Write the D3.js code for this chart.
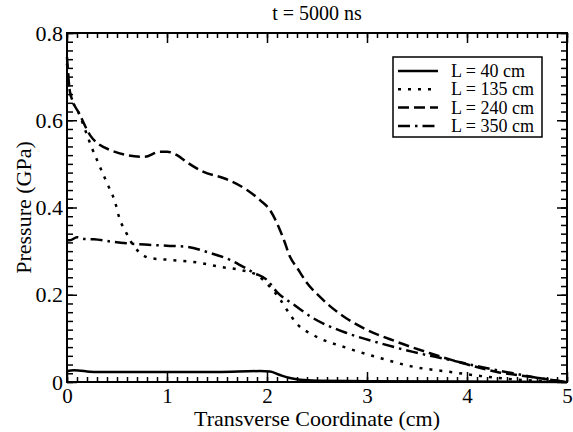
<!DOCTYPE html>
<html>
<head>
<meta charset="utf-8">
<script src="https://cdn.jsdelivr.net/npm/d3@7"></script>
<style>
  body { margin: 0; background: #fff; }
</style>
</head>
<body>
<svg id="chart" width="573" height="432"></svg>
<script>
// Pressure profiles
const x40 = [0, 0.07, 0.27, 1.0, 1.5, 1.93, 2.03, 2.13, 2.23, 2.33, 2.5, 3.0, 4.0, 5.0];
const p40 = [0.025, 0.027, 0.023, 0.023, 0.023, 0.025, 0.024, 0.016, 0.009, 0.005, 0.003, 0.002, 0.001, 0.0];

const x135 = [0, 0.03, 0.13, 0.21, 0.25, 0.33, 0.4, 0.48, 0.53, 0.58, 0.63, 0.73, 0.83, 1.03, 1.33, 1.53, 1.73, 1.9, 2.03, 2.13, 2.2, 2.3, 2.46, 2.8, 3.13, 3.46, 3.8, 4.13, 4.46, 4.8, 5.0];
const p135 = [0.73, 0.665, 0.61, 0.56, 0.536, 0.493, 0.456, 0.413, 0.371, 0.348, 0.325, 0.296, 0.284, 0.28, 0.273, 0.264, 0.257, 0.245, 0.218, 0.19, 0.165, 0.133, 0.108, 0.078, 0.055, 0.035, 0.024, 0.014, 0.006, 0.002, 0.0];

const x240 = [0, 0.03, 0.13, 0.23, 0.33, 0.43, 0.6, 0.77, 0.93, 1.0, 1.1, 1.21, 1.36, 1.57, 1.8, 1.93, 2.03, 2.1, 2.17, 2.23, 2.3, 2.4, 2.53, 2.63, 2.8, 2.96, 3.3, 3.63, 3.96, 4.3, 4.63, 4.9, 5.0];
const p240 = [0.745, 0.665, 0.612, 0.566, 0.543, 0.532, 0.52, 0.516, 0.528, 0.528, 0.52, 0.502, 0.482, 0.467, 0.44, 0.417, 0.394, 0.364, 0.325, 0.287, 0.262, 0.227, 0.195, 0.174, 0.145, 0.124, 0.092, 0.066, 0.043, 0.023, 0.012, 0.003, 0.0];

const x350 = [0, 0.03, 0.1, 0.17, 0.27, 0.47, 0.7, 1.03, 1.2, 1.4, 1.63, 1.87, 2.0, 2.1, 2.27, 2.45, 2.8, 3.13, 3.46, 3.8, 4.13, 4.46, 4.8, 5.0];
const p350 = [0.325, 0.325, 0.332, 0.328, 0.327, 0.321, 0.316, 0.312, 0.31, 0.298, 0.28, 0.25, 0.234, 0.206, 0.177, 0.148, 0.112, 0.089, 0.069, 0.052, 0.035, 0.02, 0.006, 0.0];

const seriesLabels = ["L = 40 cm", "L = 135 cm", "L = 240 cm", "L = 350 cm"];
const xTicks = [0, 1, 2, 3, 4, 5];
const yTicks = [0, 0.2, 0.4, 0.6, 0.8];

const series = [
  { label: seriesLabels[0], x: x40, p: p40, dash: null },
  { label: seriesLabels[1], x: x135, p: p135, dash: "3,7" },
  { label: seriesLabels[2], x: x240, p: p240, dash: "11,5" },
  { label: seriesLabels[3], x: x350, p: p350, dash: "12,5,2.5,5" }
];

const serif = "'Liberation Serif', 'Times New Roman', serif";
const svg = d3.select("#chart");
const plotLeft = 67, plotRight = 567, plotTop = 33, plotBottom = 382;

const xScale = d3.scaleLinear().domain([0, 5]).range([plotLeft, plotRight]);
const yScale = d3.scaleLinear().domain([0, 0.8]).range([plotBottom, plotTop]);

const xMinor = d3.range(0, 50.5, 1).map(d => d / 10);
const yMinor = d3.range(0, 40.5, 1).map(d => d / 50);
const yFmt = d => d === 0 ? "0" : d3.format(".1f")(d);

// ticks on all four sides, pointing inward
function addAxis(axis, tx, ty, fontSize) {
  let g = svg.append("g").attr("transform", `translate(${tx},${ty})`).call(axis);
  g.select(".domain").remove();
  g.attr("font-family", serif).attr("font-size", fontSize || 21);
  g.selectAll("line").attr("stroke", "#000").attr("stroke-width", 1.5);
  g.selectAll("text").attr("fill", "#000");
  return g;
}

addAxis(d3.axisBottom(xScale).tickValues(xMinor).tickSize(-5).tickFormat(""), 0, plotBottom);
addAxis(d3.axisTop(xScale).tickValues(xMinor).tickSize(-5).tickFormat(""), 0, plotTop);
addAxis(d3.axisLeft(yScale).tickValues(yMinor).tickSize(-6).tickFormat(""), plotLeft, 0);
addAxis(d3.axisRight(yScale).tickValues(yMinor).tickSize(-6).tickFormat(""), plotRight, 0);

addAxis(d3.axisBottom(xScale).tickValues(xTicks).tickSize(-10).tickPadding(6).tickFormat(d3.format("d")), 0, plotBottom, 21);
addAxis(d3.axisTop(xScale).tickValues(xTicks).tickSize(-10).tickFormat(""), 0, plotTop);
addAxis(d3.axisLeft(yScale).tickValues(yTicks).tickSize(-10).tickPadding(4).tickFormat(yFmt), plotLeft, 0, 22);
addAxis(d3.axisRight(yScale).tickValues(yTicks).tickSize(-10).tickFormat(""), plotRight, 0);

// curves
const line = d3.line()
  .x(d => xScale(d[0]))
  .y(d => yScale(d[1]))
  .curve(d3.curveMonotoneX);

series.forEach(s => {
  svg.append("path")
    .datum(s.x.map((v, i) => [v, s.p[i]]))
    .attr("d", line)
    .attr("fill", "none")
    .attr("stroke", "#000")
    .attr("stroke-width", 2.5)
    .attr("stroke-dasharray", s.dash);
});

// frame
svg.append("rect")
  .attr("x", plotLeft).attr("y", plotTop)
  .attr("width", plotRight - plotLeft).attr("height", plotBottom - plotTop)
  .attr("fill", "none").attr("stroke", "#000").attr("stroke-width", 2);

// titles
svg.append("text")
  .attr("x", (plotLeft + plotRight) / 2).attr("y", 20)
  .attr("text-anchor", "middle")
  .attr("font-family", serif).attr("font-size", 20)
  .text("t = 5000 ns");

svg.append("text")
  .attr("x", (plotLeft + plotRight) / 2).attr("y", 426)
  .attr("text-anchor", "middle")
  .attr("font-family", serif).attr("font-size", 22)
  .text("Transverse Coordinate (cm)");

svg.append("text")
  .attr("transform", `translate(31,${(plotTop + plotBottom) / 2}) rotate(-90)`)
  .attr("text-anchor", "middle")
  .attr("font-family", serif).attr("font-size", 22)
  .text("Pressure (GPa)");

// legend
const legend = svg.append("g");
legend.append("rect")
  .attr("x", 393).attr("y", 57).attr("width", 149).attr("height", 80)
  .attr("fill", "#fff").attr("stroke", "#000").attr("stroke-width", 1.5);

series.forEach((s, i) => {
  let yy = 71 + i * 18.3;
  legend.append("line")
    .attr("x1", 398).attr("x2", 438).attr("y1", yy).attr("y2", yy)
    .attr("stroke", "#000").attr("stroke-width", 2.5)
    .attr("stroke-dasharray", s.dash);
  legend.append("text")
    .attr("x", 451).attr("y", yy + 6)
    .attr("font-family", serif).attr("font-size", 18)
    .text(s.label);
});
</script>
</body>
</html>
